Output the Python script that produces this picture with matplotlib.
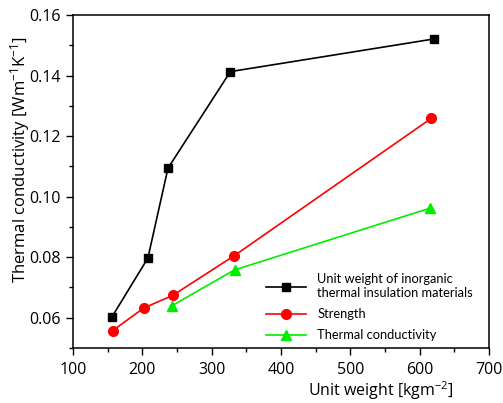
import matplotlib
matplotlib.use("Agg")
import matplotlib.pyplot as plt
from matplotlib.ticker import MultipleLocator

plt.rcParams['font.family'] = ['Open Sans', 'DejaVu Sans']
plt.rcParams['mathtext.default'] = 'regular'

black_x = [156, 208, 237, 327, 621]
black_y = [0.0602, 0.0797, 0.1094, 0.1413, 0.1521]
red_x = [157, 202, 244, 332, 617]
red_y = [0.0557, 0.0632, 0.0674, 0.0804, 0.1259]
green_x = [243, 333, 615]
green_y = [0.0640, 0.0758, 0.0962]

labels = ["Unit weight of inorganic\nthermal insulation materials",
          "Strength", "Thermal conductivity"]

fig = plt.figure(figsize=(5.03, 4.03), dpi=100)
ax = fig.add_axes([73/503, 1-348/403, (489-73)/503, (348-15)/403])

ax.plot(black_x, black_y, color='black', marker='s', ms=6, lw=1.2, label=labels[0])
ax.plot(red_x, red_y, color='red', marker='o', ms=7, lw=1.2, label=labels[1])
ax.plot(green_x, green_y, color='#00ee00', marker='^', ms=7, lw=1.2, label=labels[2])

ax.set_xlim(100, 700)
ax.set_ylim(0.05, 0.16)
ax.xaxis.set_major_locator(MultipleLocator(100))
ax.xaxis.set_minor_locator(MultipleLocator(50))
ax.yaxis.set_minor_locator(MultipleLocator(0.01))
ax.set_yticks([0.06, 0.08, 0.10, 0.12, 0.14, 0.16])
ax.set_yticklabels(['0.06', '0.08', '0.10', '0.12', '0.14', '0.16'])
ax.tick_params(which='major', direction='out', length=5, width=1, labelsize=11.5)
ax.tick_params(axis='x', which='major', pad=5)
ax.tick_params(which='minor', direction='out', length=3, width=1)
for s in ax.spines.values():
    s.set_linewidth(1.1)

ax.set_xlabel("Unit weight [kgm$^{-2}$]", fontsize=11.5)
ax.xaxis.set_label_coords(0.74, -0.095)
ax.set_ylabel("Thermal conductivity [Wm$^{-1}$K$^{-1}$]", fontsize=12)
ax.yaxis.set_label_coords(-0.099, 0.565)

leg = ax.legend(loc='lower right', bbox_to_anchor=(0.99, -0.015), frameon=False,
                prop={'family': ['Lato', 'DejaVu Sans'], 'size': 9.3},
                handlelength=3.1, handletextpad=0.9, labelspacing=0.7)

fig.savefig("out.png", dpi=100)
